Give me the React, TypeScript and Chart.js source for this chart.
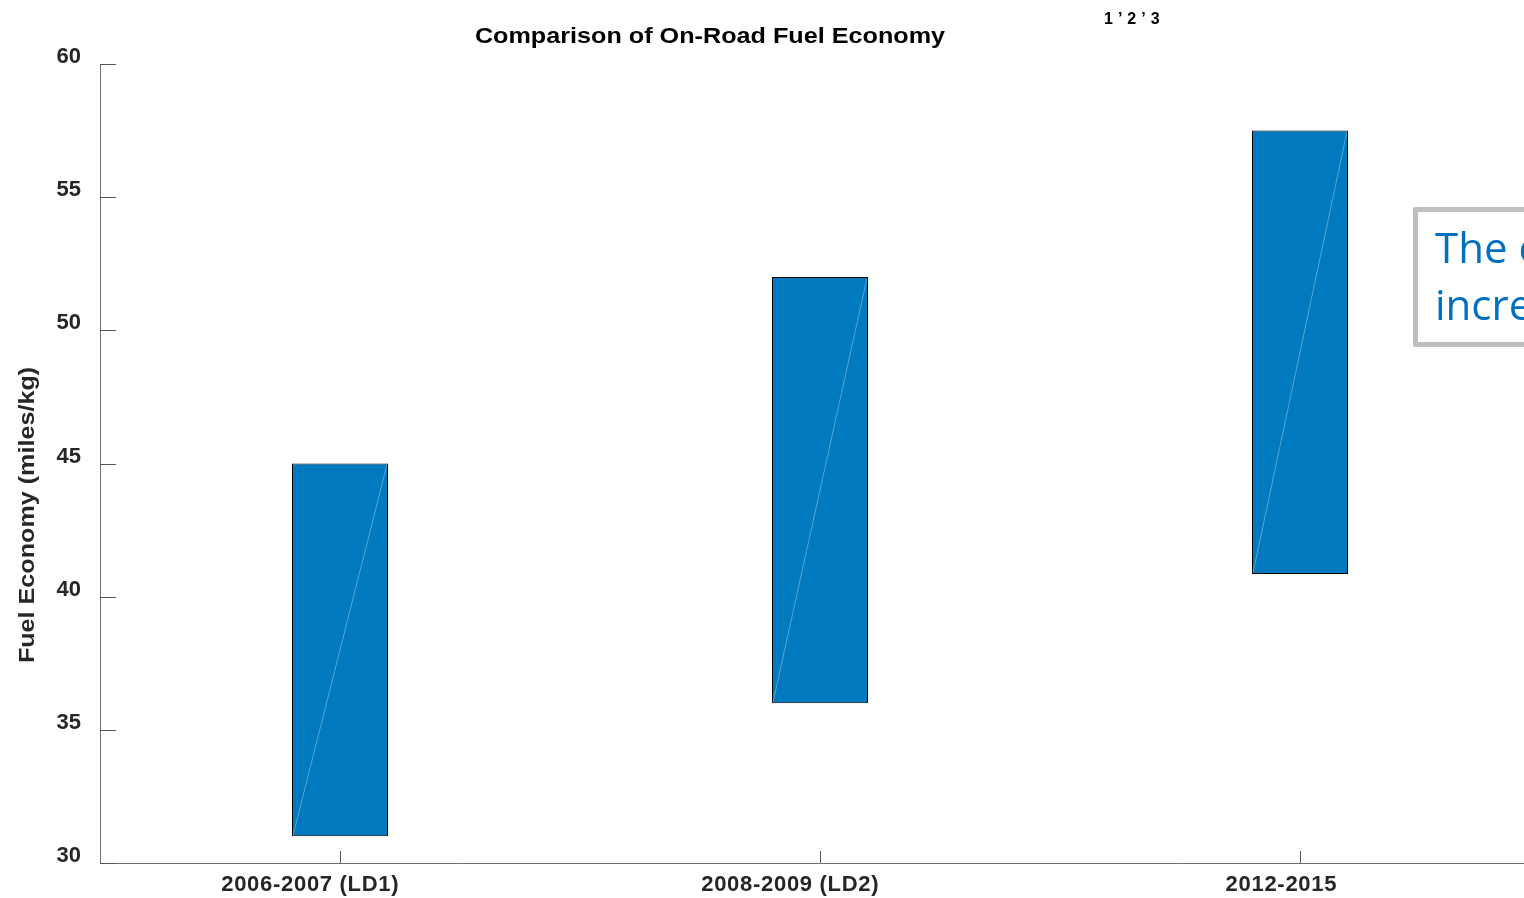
import React, { useEffect, useRef } from "react";
import { Chart, registerables } from "chart.js";

Chart.register(...registerables);

const categories = ["2006-2007 (LD1)", "2008-2009 (LD2)", "2012-2015"];
const lowValues = [31, 36, 40.85];
const highValues = [45, 52, 57.5];
const yMin = 30;
const yMax = 60;
const yStep = 5;
const chartTitle = "Comparison of On-Road Fuel Economy";
const titleRefs = "1\u20192\u20193";
const yAxisTitle = "Fuel Economy (miles/kg)";
const calloutLines = ["The on-road fuel economy has", "increased over time"];

const FONT = "'Liberation Sans', Arial, sans-serif";

const decorPlugin = {
  id: "decor",
  afterDatasetsDraw(chart: any) {
    const { ctx } = chart;
    const meta = chart.getDatasetMeta(0);
    ctx.save();
    ctx.strokeStyle = "rgba(255,255,255,0.55)";
    ctx.lineWidth = 0.6;
    meta.data.forEach((bar: any) => {
      const p = bar.getProps(["x", "y", "base", "width"], true);
      ctx.beginPath();
      ctx.moveTo(p.x - p.width / 2 + 1, p.base - 1);
      ctx.lineTo(p.x + p.width / 2 - 1, p.y + 1);
      ctx.stroke();
    });
    ctx.restore();
  },
  afterDraw(chart: any) {
    const { ctx, chartArea } = chart;
    const x = chart.scales.x;
    const y = chart.scales.y;
    ctx.save();
    ctx.strokeStyle = "#555555";
    ctx.lineWidth = 1;
    y.ticks.forEach((t: any) => {
      const py = Math.round(y.getPixelForValue(t.value)) + 0.5;
      ctx.beginPath();
      ctx.moveTo(chartArea.left, py);
      ctx.lineTo(chartArea.left + 16, py);
      ctx.stroke();
    });
    x.ticks.forEach((_t: any, i: number) => {
      const px = Math.round(x.getPixelForTick(i)) + 0.5;
      ctx.beginPath();
      ctx.moveTo(px, chartArea.bottom);
      ctx.lineTo(px, chartArea.bottom - 12);
      ctx.stroke();
    });
    // x category labels
    ctx.fillStyle = "#262626";
    ctx.font = `bold 22px ${FONT}`;
    (ctx as any).letterSpacing = "0.7px";
    ctx.textAlign = "left";
    ctx.textBaseline = "alphabetic";
    (chart.data.labels as string[]).forEach((lab: string, i: number) => {
      const px = x.getPixelForTick(i);
      const w = ctx.measureText(lab).width;
      ctx.fillText(lab, px - w * 0.667, chartArea.bottom + 28);
    });
    (ctx as any).letterSpacing = "0px";
    // title (horizontally stretched)
    ctx.save();
    ctx.fillStyle = "#000000";
    ctx.font = `bold 22px ${FONT}`;
    ctx.textAlign = "center";
    ctx.textBaseline = "alphabetic";
    ctx.translate(710, 43);
    ctx.scale(1.145, 1);
    ctx.fillText(chartTitle, 0, 0);
    ctx.restore();
    // reference superscript
    ctx.fillStyle = "#000000";
    ctx.font = `bold 16px ${FONT}`;
    ctx.textAlign = "left";
    ctx.textBaseline = "alphabetic";
    (ctx as any).letterSpacing = "5px";
    ctx.fillText(titleRefs, 1104, 24);
    (ctx as any).letterSpacing = "0px";
    // y axis title (stretched along reading direction)
    ctx.save();
    ctx.fillStyle = "#262626";
    ctx.font = `bold 22px ${FONT}`;
    ctx.translate(28, 515);
    ctx.rotate(-Math.PI / 2);
    ctx.scale(1.143, 1);
    ctx.textAlign = "center";
    ctx.textBaseline = "middle";
    ctx.fillText(yAxisTitle, 0, 0);
    ctx.restore();
    ctx.restore();
  },
};

export default function App() {
  const canvasRef = useRef<HTMLCanvasElement | null>(null);

  useEffect(() => {
    const canvas = canvasRef.current;
    if (!canvas) return;
    const chart = new Chart(canvas, {
      type: "bar",
      data: {
        labels: categories,
        datasets: [
          {
            data: categories.map((_c, i) => [lowValues[i], highValues[i]]) as any,
            backgroundColor: "#0079be",
            borderColor: "#000000",
            borderWidth: 1,
            borderSkipped: false,
            barPercentage: 0.2,
            categoryPercentage: 1,
          },
        ],
      },
      options: {
        responsive: false,
        maintainAspectRatio: false,
        animation: false,
        layout: { padding: { top: 64, right: 0, bottom: 0, left: 0 } },
        plugins: {
          legend: { display: false },
          tooltip: { enabled: false },
          title: { display: false },
        },
        scales: {
          x: {
            type: "category",
            offset: true,
            grid: { display: false, drawTicks: false },
            border: { display: true, color: "#6e6e6e", width: 1 },
            ticks: { display: false, autoSkip: false },
            afterFit: (scale: any) => {
              scale.height = 35;
            },
          },
          y: {
            type: "linear",
            min: yMin,
            max: yMax,
            grid: { display: false, drawTicks: false },
            border: { display: true, color: "#6e6e6e", width: 1 },
            ticks: {
              stepSize: yStep,
              color: "#262626",
              font: { family: FONT, size: 22, weight: "bold" },
              padding: 19,
              labelOffset: -7,
            },
            afterFit: (scale: any) => {
              scale.width = 100;
            },
          },
        },
      },
      plugins: [decorPlugin],
    });
    return () => chart.destroy();
  }, []);

  return (
    <div
      style={{
        position: "fixed",
        left: 0,
        top: 0,
        width: 1524,
        height: 898,
        overflow: "hidden",
        background: "#ffffff",
      }}
    >
      <canvas
        ref={canvasRef}
        width={1540}
        height={898}
        style={{ position: "absolute", left: 0, top: 0, width: 1540, height: 898 }}
      />
      <div
        style={{
          position: "absolute",
          left: 1413,
          top: 207,
          width: 460,
          height: 140,
          border: "5px solid #bfbfbf",
          borderRadius: 2,
          background: "#ffffff",
          color: "#0070c0",
          fontFamily: "'Open Sans', 'Noto Sans', sans-serif",
          fontSize: 42,
          lineHeight: "57px",
          padding: "6px 0 0 17px",
          boxSizing: "border-box",
          whiteSpace: "nowrap",
        }}
      >
        {calloutLines.map((l, i) => (
          <div key={i}>{l}</div>
        ))}
      </div>
    </div>
  );
}
